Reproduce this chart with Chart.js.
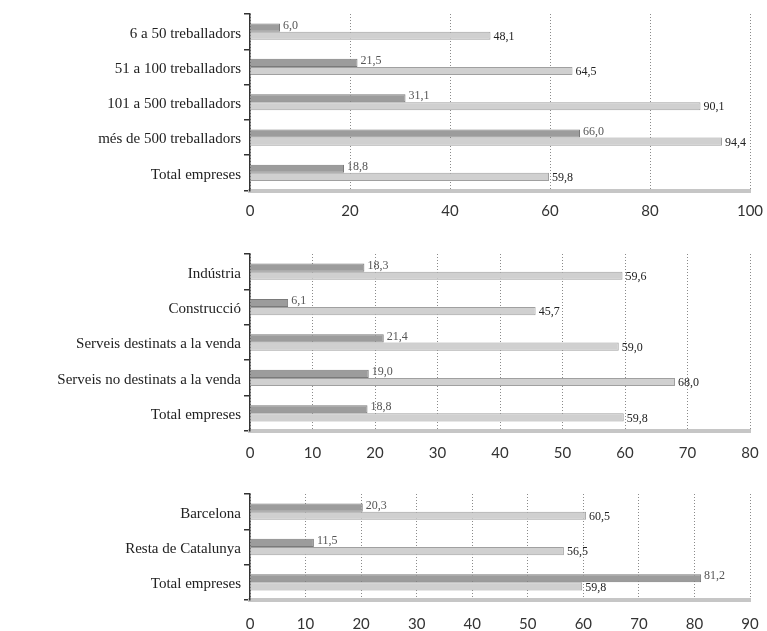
<!DOCTYPE html>
<html>
<head>
<meta charset="utf-8">
<script src="https://cdn.jsdelivr.net/npm/chart.js@4/dist/chart.umd.min.js"></script>
<style>
  body { margin: 0; background: #fff; }
  canvas { position: absolute; left: 0; }
</style>
</head>
<body>
<canvas id="chartSize" width="767" height="225" style="top:0px"></canvas>
<canvas id="chartSector" width="767" height="230" style="top:235px"></canvas>
<canvas id="chartTerritory" width="767" height="151" style="top:480px"></canvas>
<script>
// panel 1: by company size
const sizeLabels = ['6 a 50 treballadors', '51 a 100 treballadors', '101 a 500 treballadors', 'més de 500 treballadors', 'Total empreses'];
const sizeDark = [6.0, 21.5, 31.1, 66.0, 18.8];
const sizeLight = [48.1, 64.5, 90.1, 94.4, 59.8];

// panel 2: by sector
const sectorLabels = ['Indústria', 'Construcció', 'Serveis destinats a la venda', 'Serveis no destinats a la venda', 'Total empreses'];
const sectorDark = [18.3, 6.1, 21.4, 19.0, 18.8];
const sectorLight = [59.6, 45.7, 59.0, 68.0, 59.8];

// panel 3: by territory
const territoryLabels = ['Barcelona', 'Resta de Catalunya', 'Total empreses'];
const territoryDark = [20.3, 11.5, 81.2];
const territoryLight = [60.5, 56.5, 59.8];

// axis maxima / steps
const axisMax = [100, 80, 90];
const axisStep = [20, 10, 10];

const fmt = v => v.toFixed(1).replace('.', ',');

// draws the value next to the end of each bar
const barValues = {
  id: 'barValues',
  afterDatasetsDraw(chart) {
    const ctx = chart.ctx;
    ctx.save();
    ctx.font = '12px "Liberation Serif", serif';
    ctx.textBaseline = 'middle';
    ctx.textAlign = 'left';
    chart.data.datasets.forEach((ds, i) => {
      const meta = chart.getDatasetMeta(i);
      meta.data.forEach((bar, j) => {
        ctx.fillStyle = i === 0 ? '#555' : '#222';
        ctx.fillText(fmt(ds.data[j]), bar.x + 3, bar.y + (i === 0 ? -2 : 1));
      });
    });
    ctx.restore();
  }
};

function makeChart(id, labels, dark, light, max, step, pad) {
  return new Chart(document.getElementById(id), {
    type: 'bar',
    data: {
      labels: labels,
      datasets: [{
        data: dark,
        backgroundColor: '#9c9c9c',
        borderColor: '#7a7a7a',
        borderWidth: 1
      }, {
        data: light,
        backgroundColor: '#d0d0d0',
        borderColor: '#a0a0a0',
        borderWidth: 1
      }]
    },
    options: {
      indexAxis: 'y',
      responsive: false,
      animation: false,
      layout: { padding: { top: pad.top, right: 17, left: 0, bottom: 0 } },
      datasets: { bar: { categoryPercentage: 0.46, barPercentage: 1 } },
      plugins: { legend: { display: false }, tooltip: { enabled: false } },
      scales: {
        x: {
          min: 0,
          max: max,
          ticks: {
            stepSize: step,
            padding: 0,
            color: '#333',
            font: { family: 'Lato', size: 15 }
          },
          // invisible tick marks push the labels down without widening the right margin
          grid: { color: '#8a8a8a', drawTicks: true, tickLength: pad.tick, tickColor: 'rgba(0,0,0,0)' },
          border: { color: '#c6c6c6', width: 4, dash: [1, 2] },
          afterFit(scale) { scale.height = pad.xh; }
        },
        y: {
          ticks: {
            padding: 3,
            labelOffset: 2,
            color: '#222',
            font: { family: 'Liberation Serif', size: 15 }
          },
          grid: { drawOnChartArea: false, drawTicks: true, tickLength: 6, color: '#333', lineWidth: 1.5 },
          border: { color: '#333', width: 1.5 },
          afterFit(scale) { scale.width = 250; }
        }
      }
    },
    plugins: [barValues]
  });
}

makeChart('chartSize', sizeLabels, sizeDark, sizeLight, axisMax[0], axisStep[0], { top: 14, xh: 34.5, tick: 12 });
makeChart('chartSector', sectorLabels, sectorDark, sectorLight, axisMax[1], axisStep[1], { top: 19, xh: 34, tick: 13 });
makeChart('chartTerritory', territoryLabels, territoryDark, territoryLight, axisMax[2], axisStep[2], { top: 14, xh: 31, tick: 15 });
</script>
</body>
</html>
